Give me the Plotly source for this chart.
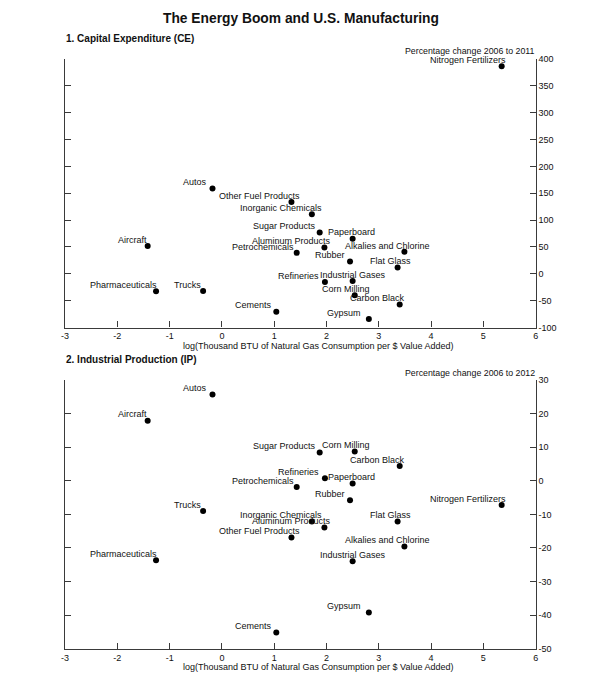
import plotly.graph_objects as go

# ---- data ----
industries = ["Autos", "Aircraft", "Pharmaceuticals", "Trucks", "Cements",
              "Other Fuel Products", "Petrochemicals", "Inorganic Chemicals",
              "Sugar Products", "Aluminum Products", "Refineries", "Rubber",
              "Paperboard", "Industrial Gases", "Corn Milling", "Gypsum",
              "Flat Glass", "Carbon Black", "Alkalies and Chlorine",
              "Nitrogen Fertilizers"]
log_gas = [-0.18, -1.42, -1.26, -0.36, 1.04,
           1.33, 1.43, 1.72,
           1.87, 1.96, 1.97, 2.45,
           2.50, 2.50, 2.54, 2.81,
           3.36, 3.40, 3.49,
           5.35]
capex_change = [158.7, 52, -32.5, -32, -70.5,
                133.5, 39, 111,
                77, 49, -15.4, 22.7,
                65.5, -13.5, -39.8, -84,
                11.6, -57, 41,
                386.6]
ip_change = [25.7, 17.9, -23.7, -9, -45.2,
             -16.9, -1.85, -12.1,
             8.4, -13.9, 0.8, -5.8,
             -0.8, -24, 8.7, -39.2,
             -12.1, 4.4, -19.6,
             -7.2]
x_ticks = [-3, -2, -1, 0, 1, 2, 3, 4, 5, 6]
x_tick_labels = ["-3", "-2", "-1", "0", "1", "2", "3", "4", "5", "6"]
ce_ticks = [-100, -50, 0, 50, 100, 150, 200, 250, 300, 350, 400]
ce_tick_labels = ["-100", "-50", "0", "50", "100", "150", "200", "250", "300", "350", "400"]
ip_ticks = [-50, -40, -30, -20, -10, 0, 10, 20, 30]
ip_tick_labels = ["-50", "-40", "-30", "-20", "-10", "0", "10", "20", "30"]

# ---- label placement (pixel offsets of label centre from the dot) ----
label_dx = {"Autos": -18, "Aircraft": -15, "Pharmaceuticals": -33, "Trucks": -16,
            "Cements": -23, "Other Fuel Products": -32, "Petrochemicals": -34,
            "Inorganic Chemicals": -31, "Sugar Products": -35, "Aluminum Products": -33,
            "Refineries": -26, "Rubber": -20, "Paperboard": -1, "Industrial Gases": 0,
            "Corn Milling": -9, "Gypsum": -25, "Flat Glass": -7, "Carbon Black": -22,
            "Alkalies and Chlorine": -17, "Nitrogen Fertilizers": -34}
label_dy = 6.3

FONT = "Liberation Sans, Arial, sans-serif"
PAGE_W, PAGE_H = 600, 684
OFF = 8  # default body margin of the page
W, H = PAGE_W - 2 * OFF, PAGE_H - 2 * OFF
AX_COLOR = "#3a3a3a"
TXT = "#111111"


def px(x):
    return (x - OFF) / W


def py(y):
    return 1 - (y - OFF) / H


x_dom = [px(61.7), px(538)]
top_dom = [py(327.3), py(54.7)]
bot_dom = [py(653.3), py(380.7)]

fig = go.Figure()
for xa, ya, yv in [("x", "y", capex_change), ("x2", "y2", ip_change)]:
    fig.add_trace(go.Scatter(x=log_gas, y=yv, mode="markers", xaxis=xa, yaxis=ya,
                             marker=dict(color="black", size=6),
                             hoverinfo="text", text=industries, showlegend=False))

annotations = []
for xref, yref, yv in [("x", "y", capex_change), ("x2", "y2", ip_change)]:
    for name, xv, v in zip(industries, log_gas, yv):
        annotations.append(dict(x=xv, y=v, xref=xref, yref=yref, text=name,
                                showarrow=False, xanchor="center", yanchor="middle",
                                xshift=label_dx[name], yshift=label_dy,
                                font=dict(family=FONT, size=9, color=TXT)))

xtitle = "log(Thousand BTU of Natural Gas Consumption per $ Value Added)"
annotations += [
    dict(x=px(300), y=py(14), xref="paper", yref="paper", showarrow=False,
         text="<b>The Energy Boom and U.S. Manufacturing</b>", xanchor="center",
         yanchor="middle", font=dict(family=FONT, size=13.8, color=TXT)),
    dict(x=px(61), y=py(33.5), xref="paper", yref="paper", showarrow=False,
         text="<b>1. Capital Expenditure (CE)</b>", xanchor="left", yanchor="middle",
         font=dict(family=FONT, size=10, color=TXT)),
    dict(x=px(61), y=py(359.5), xref="paper", yref="paper", showarrow=False,
         text="<b>2. Industrial Production (IP)</b>", xanchor="left", yanchor="middle",
         font=dict(family=FONT, size=10, color=TXT)),
    dict(x=px(539), y=py(46.5), xref="paper", yref="paper", showarrow=False,
         text="Percentage change 2006 to 2011", xanchor="right", yanchor="middle",
         font=dict(family=FONT, size=8.8, color=TXT)),
    dict(x=px(539), y=py(373.5), xref="paper", yref="paper", showarrow=False,
         text="Percentage change 2006 to 2012", xanchor="right", yanchor="middle",
         font=dict(family=FONT, size=8.8, color=TXT)),
    dict(x=px(318), y=py(346), xref="paper", yref="paper", showarrow=False,
         text=xtitle, xanchor="center", yanchor="middle",
         font=dict(family=FONT, size=9, color=TXT)),
    dict(x=px(318), y=py(672), xref="paper", yref="paper", showarrow=False,
         text=xtitle, xanchor="center", yanchor="middle",
         font=dict(family=FONT, size=9, color=TXT)),
]

xcommon = dict(range=[-3, 6], tickvals=x_ticks, ticktext=x_tick_labels,
               ticks="inside", ticklen=6,
               tickcolor=AX_COLOR, tickwidth=1.2, showline=True, linecolor=AX_COLOR,
               linewidth=1.2, showgrid=False, zeroline=False, mirror=False,
               tickfont=dict(family=FONT, size=9, color=TXT), domain=x_dom)
ycommon = dict(side="right", ticks="inside", ticklen=6, tickcolor=AX_COLOR,
               tickwidth=1.2, showline=True, linecolor=AX_COLOR, linewidth=1.2,
               mirror="ticks", showgrid=False, zeroline=False,
               tickfont=dict(family=FONT, size=9, color=TXT))

fig.update_layout(
    width=W, height=H, autosize=False,
    margin=dict(l=0, r=0, t=0, b=0),
    paper_bgcolor="white", plot_bgcolor="white",
    xaxis=dict(xcommon, anchor="y"),
    yaxis=dict(ycommon, anchor="x", domain=top_dom, range=[-100, 400],
               tickvals=ce_ticks, ticktext=ce_tick_labels),
    xaxis2=dict(xcommon, anchor="y2"),
    yaxis2=dict(ycommon, anchor="x2", domain=bot_dom, range=[-50, 30],
                tickvals=ip_ticks, ticktext=ip_tick_labels),
    annotations=annotations,
    showlegend=False,
)

fig.write_html("out.html")
